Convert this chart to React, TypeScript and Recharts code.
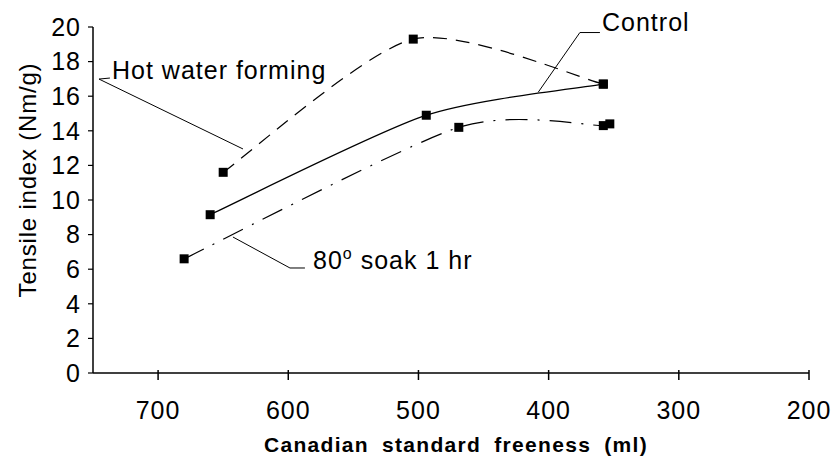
import React from "react";
import { ComposedChart, Line, XAxis, YAxis, ReferenceLine, ReferenceDot, Label } from "recharts";

const hotWater = [
  { x: 650, y: 11.6 },
  { x: 504, y: 19.3 },
  { x: 358, y: 16.7 },
];
const control = [
  { x: 660, y: 9.15 },
  { x: 494, y: 14.9 },
  { x: 358, y: 16.7 },
];
const soak = [
  { x: 680, y: 6.6 },
  { x: 469, y: 14.2 },
  { x: 358, y: 14.3 },
];
const soakExtra = [{ x: 353, y: 14.4 }];

const xTicks = [700, 600, 500, 400, 300, 200];
const yTicks = [0, 2, 4, 6, 8, 10, 12, 14, 16, 18, 20];

// annotation positions in data units
const hotLeader = [
  [{ x: 737, y: 17.05 }, { x: 745.4, y: 16.99 }],
  [{ x: 745.4, y: 16.99 }, { x: 634.8, y: 12.95 }],
];
const controlLeader = [
  [{ x: 376, y: 19.68 }, { x: 360.6, y: 19.68 }],
  [{ x: 376, y: 19.68 }, { x: 408, y: 16.23 }],
];
const soakLeader = [
  [{ x: 642.5, y: 7.86 }, { x: 598.7, y: 6.07 }],
  [{ x: 598.7, y: 6.07 }, { x: 587.2, y: 6.07 }],
];
const labelHot = { x: 735.4, y: 17.0, text: "Hot water forming" };
const labelControl = { x: 359, y: 19.75, text: "Control" };
const labelSoak = { x: 581, y: 6.0, text: "80", sup: "o", rest: " soak 1 hr" };

const FONT = "'Liberation Sans', Arial, Helvetica, sans-serif";

// Smoothed-line curve (cardinal spline with mild tension)
const K = 8;
const smoothCurve: any = (context: any) => {
  let pts: number[][] = [];
  return {
    areaStart() {},
    areaEnd() {},
    lineStart() {
      pts = [];
    },
    point(x: number, y: number) {
      pts.push([+x, +y]);
    },
    lineEnd() {
      const n = pts.length;
      if (!n) return;
      context.moveTo(pts[0][0], pts[0][1]);
      for (let i = 0; i < n - 1; i++) {
        const p0 = pts[i - 1] || pts[i];
        const p1 = pts[i];
        const p2 = pts[i + 1];
        const p3 = pts[i + 2] || p2;
        context.bezierCurveTo(
          p1[0] + (p2[0] - p0[0]) / K,
          p1[1] + (p2[1] - p0[1]) / K,
          p2[0] - (p3[0] - p1[0]) / K,
          p2[1] - (p3[1] - p1[1]) / K,
          p2[0],
          p2[1]
        );
      }
    },
  };
};

const Square = (props: any) => {
  const { cx, cy } = props;
  if (cx == null || cy == null) return null;
  return <rect x={cx - 4.5} y={cy - 4.5} width={9} height={9} fill="#000" />;
};

const XTick = (props: any) => {
  const { x, y, payload } = props;
  return (
    <g>
      <line x1={x} x2={x} y1={y - 5} y2={y + 5} stroke="#000" strokeWidth={1.5} />
      <text x={x} y={y + 44} textAnchor="middle" fontFamily={FONT} fontSize={25} letterSpacing={1} fill="#000">
        {payload.value}
      </text>
    </g>
  );
};

const TextShape = (txt: string, sup?: string, rest?: string) => (props: any) => {
  const { cx, cy } = props;
  return (
    <text x={cx} y={cy} fontFamily={FONT} fontSize={25} letterSpacing={1} fill="#000">
      {txt}
      {sup ? (
        <tspan fontSize={16} dy={-10}>{sup}</tspan>
      ) : null}
      {rest ? <tspan dy={sup ? 10 : 0}>{rest}</tspan> : null}
    </text>
  );
};

export default function App() {
  return (
    <div style={{ width: 835, height: 463 }}>
      <style>{`body{margin:0;background:#fff;}`}</style>
      <ComposedChart
        width={835}
        height={463}
        margin={{ top: 27, right: 26, left: 0, bottom: 0 }}
      >
        <XAxis
          type="number"
          dataKey="x"
          domain={[200, 750]}
          reversed
          ticks={xTicks}
          allowDataOverflow
          height={90}
          axisLine={{ stroke: "#000", strokeWidth: 1.5 }}
          tickLine={false}
          tickSize={0}
          tick={<XTick />}
          interval={0}
        >
          <Label
            content={(p: any) => {
              const vb = p.viewBox;
              return (
                <text
                  x={vb.x + vb.width / 2 + 5}
                  y={vb.y + 79}
                  textAnchor="middle"
                  fontFamily={FONT}
                  fontWeight="bold"
                  fontSize={21}
                  letterSpacing={1.3}
                  wordSpacing={6}
                  fill="#000"
                >
                  Canadian standard freeness (ml)
                </text>
              );
            }}
          />
        </XAxis>
        <YAxis
          type="number"
          domain={[0, 20]}
          ticks={yTicks}
          interval={0}
          width={93}
          axisLine={{ stroke: "#000", strokeWidth: 1.5 }}
          tickLine={{ stroke: "#000", strokeWidth: 1.2 }}
          tickSize={5}
          tickMargin={7}
          tick={{ fontFamily: FONT, fontSize: 25, fill: "#000", letterSpacing: 1 }}
        >
          <Label
            content={() => {
              const cx = 36;
              const cy = 180;
              return (
                <text
                  x={cx}
                  y={cy}
                  transform={`rotate(-90, ${cx}, ${cy})`}
                  textAnchor="middle"
                  fontFamily={FONT}
                  fontSize={24}
                  letterSpacing={0.8}
                  fill="#000"
                >
                  Tensile index (Nm/g)
                </text>
              );
            }}
          />
        </YAxis>

        <Line
          data={hotWater}
          dataKey="y"
          type={smoothCurve}
          stroke="#000"
          strokeWidth={1.2}
          strokeDasharray="14 9"
          dot={<Square />}
          isAnimationActive={false}
        />
        <Line
          data={control}
          dataKey="y"
          type={smoothCurve}
          stroke="#000"
          strokeWidth={1.3}
          dot={<Square />}
          isAnimationActive={false}
        />
        <Line
          data={soak}
          dataKey="y"
          type={smoothCurve}
          stroke="#000"
          strokeWidth={1.2}
          strokeDasharray="22 10 2 10"
          dot={<Square />}
          isAnimationActive={false}
        />
        <Line
          data={soakExtra}
          dataKey="y"
          stroke="none"
          dot={<Square />}
          isAnimationActive={false}
        />

        {[...hotLeader, ...controlLeader, ...soakLeader].map((seg, i) => (
          <ReferenceLine
            key={i}
            segment={seg as any}
            stroke="#000"
            strokeWidth={1}
            ifOverflow="visible"
          />
        ))}

        <ReferenceDot
          x={labelHot.x}
          y={labelHot.y}
          r={0}
          ifOverflow="visible"
          shape={TextShape(labelHot.text)}
        />
        <ReferenceDot
          x={labelControl.x}
          y={labelControl.y}
          r={0}
          ifOverflow="visible"
          shape={TextShape(labelControl.text)}
        />
        <ReferenceDot
          x={labelSoak.x}
          y={labelSoak.y}
          r={0}
          ifOverflow="visible"
          shape={TextShape(labelSoak.text, labelSoak.sup, labelSoak.rest)}
        />
      </ComposedChart>
    </div>
  );
}
